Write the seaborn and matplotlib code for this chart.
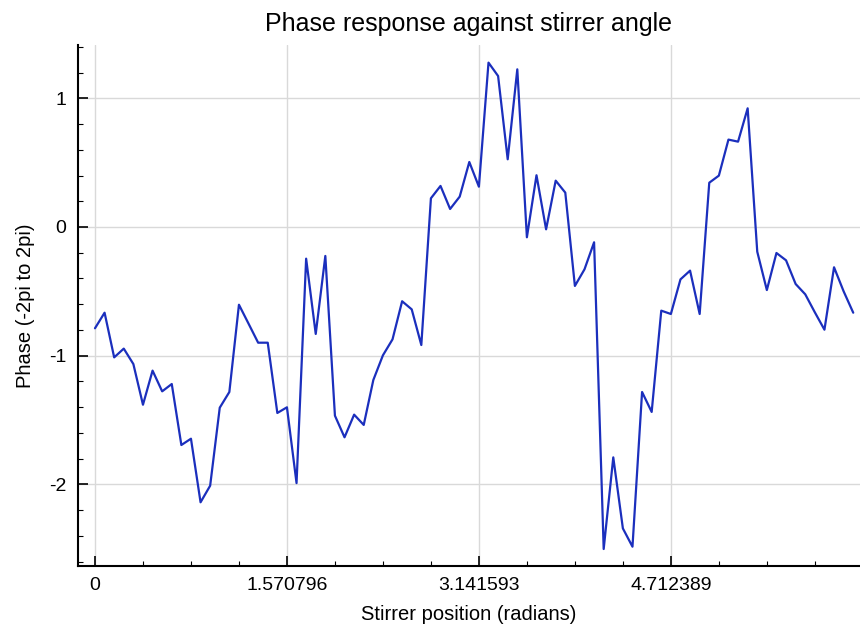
import numpy as np
import pandas as pd
import matplotlib
matplotlib.use("Agg")
import matplotlib.pyplot as plt
from matplotlib.ticker import FixedLocator, MultipleLocator
import seaborn as sns

n_points = 80
phase = [-0.787, -0.666, -1.013, -0.945, -1.065, -1.381, -1.116, -1.277, -1.220, -1.694,
         -1.645, -2.139, -2.010, -1.404, -1.282, -0.604, -0.751, -0.899, -0.899, -1.445,
         -1.401, -1.990, -0.246, -0.831, -0.225, -1.466, -1.634, -1.458, -1.538, -1.189,
         -0.997, -0.873, -0.577, -0.640, -0.917, 0.223, 0.319, 0.140, 0.236, 0.505,
         0.313, 1.277, 1.173, 0.526, 1.225, -0.080, 0.402, -0.018, 0.360, 0.267,
         -0.458, -0.329, -0.119, -2.502, -1.790, -2.342, -2.484, -1.282, -1.437, -0.650,
         -0.676, -0.407, -0.339, -0.676, 0.344, 0.399, 0.679, 0.663, 0.922, -0.192,
         -0.490, -0.202, -0.259, -0.443, -0.523, -0.663, -0.798, -0.313, -0.500, -0.666]
angle = [2 * np.pi * i / n_points for i in range(n_points)]
xtick_vals = [0, np.pi / 2, np.pi, 3 * np.pi / 2]
xtick_labels = ["0", "1.570796", "3.141593", "4.712389"]
ytick_vals = [-2, -1, 0, 1]

sns.set_style("white")
plt.rcParams["font.family"] = ["Liberation Sans", "DejaVu Sans"]
plt.rcParams["text.color"] = "black"
plt.rcParams["axes.labelcolor"] = "black"
plt.rcParams["xtick.color"] = "black"
plt.rcParams["ytick.color"] = "black"

df = pd.DataFrame({"angle": angle, "phase": phase})

fig = plt.figure(figsize=(8.6, 6.33), dpi=100)
ax = fig.add_axes([77.5 / 860, (633 - 566) / 633, (860 - 77.5) / 860, (566 - 45) / 633])
sns.lineplot(data=df, x="angle", y="phase", ax=ax, color="#1b2fbd", linewidth=1.6)

ax.set_xlim(-0.143, 6.26)
ax.set_ylim(-2.634, 1.414)
ax.xaxis.set_major_locator(FixedLocator(xtick_vals))
ax.set_xticklabels(xtick_labels)
ax.xaxis.set_minor_locator(MultipleLocator(np.pi / 8))
ax.yaxis.set_major_locator(FixedLocator(ytick_vals))
ax.set_yticklabels([str(v) for v in ytick_vals])
ax.yaxis.set_minor_locator(MultipleLocator(0.2))

ax.grid(True, which="major", color="#d9d9d9", linewidth=1.0)
ax.set_axisbelow(True)
for s in ["top", "right"]:
    ax.spines[s].set_visible(False)
for s in ["left", "bottom"]:
    ax.spines[s].set_color("black")
    ax.spines[s].set_linewidth(1.5)

ax.tick_params(which="major", direction="in", length=7, width=1.2, color="black",
               labelsize=14, pad=8, left=True, bottom=True, labelcolor="black")
ax.tick_params(which="minor", direction="in", length=3.5, width=0.8, color="black",
               left=True, bottom=True)

ax.set_title("Phase response against stirrer angle", fontsize=18, pad=10, color="black")
ax.set_xlabel("Stirrer position (radians)", fontsize=14.5, labelpad=8, color="black")
ax.set_ylabel("Phase (-2pi to 2pi)", fontsize=14.5, labelpad=10, color="black")

fig.savefig("out.png", dpi=100)
